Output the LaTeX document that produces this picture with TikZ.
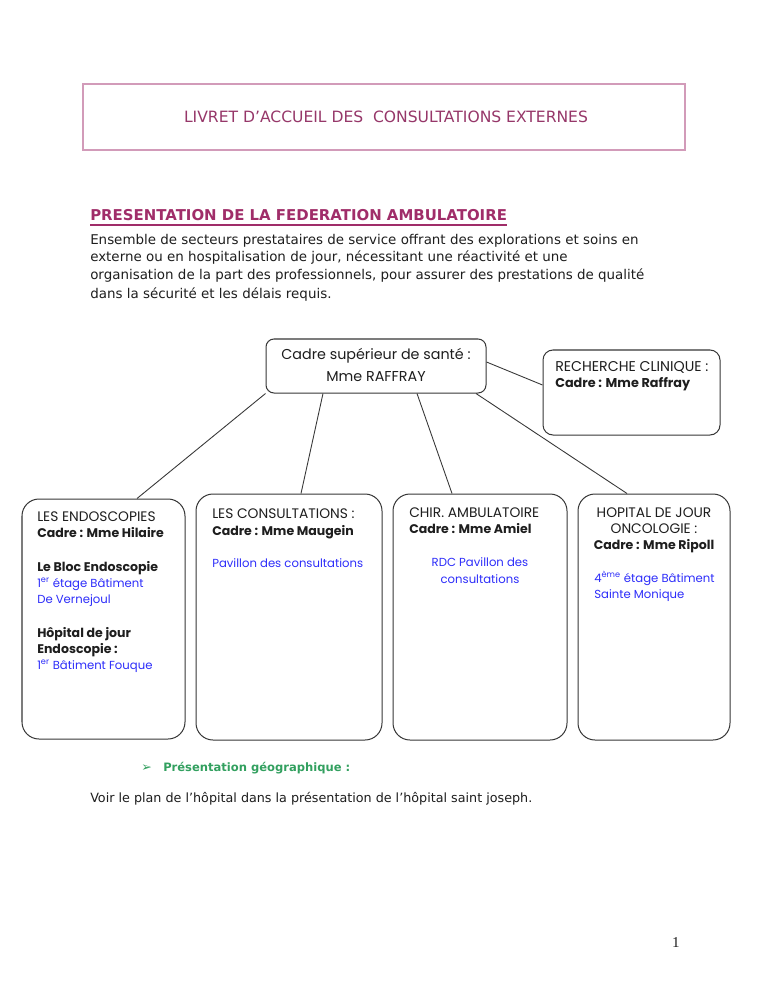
\documentclass[tikz,border=0pt]{standalone}
\usepackage{fontspec}
\setmainfont{DejaVu Sans}
\newfontfamily\comic{Poppins}
\newfontfamily\pnum{Liberation Serif}
\newcommand{\pxu}{0.796875pt}
\definecolor{titlecol}{RGB}{150,55,105}
\definecolor{titlebord}{RGB}{210,155,185}
\definecolor{headcol}{RGB}{160,45,105}
\definecolor{bluet}{RGB}{45,45,250}
\definecolor{greent}{RGB}{50,160,95}
\definecolor{txt}{RGB}{30,30,30}
\definecolor{boxline}{RGB}{55,55,55}
\tikzset{
  ln/.style={anchor=base west, inner sep=0pt, text=txt},
  lnc/.style={anchor=base, inner sep=0pt, text=txt},
  orgbox/.style={draw=boxline, line width=0.8pt, fill=white, inner sep=0pt},
  conn/.style={draw=boxline, line width=0.7pt},
  bx/.style={font=\comic\fontsize{11}{13}\selectfont},
  bxb/.style={font=\comic\bfseries\fontsize{10}{12}\selectfont},
  bxbl/.style={font=\comic\fontsize{9.3}{11}\selectfont, text=bluet},
}
\begin{document}
\begin{tikzpicture}[x=0.796875pt,y=-0.796875pt]
\useasboundingbox[fill=white] (0,0) rectangle (768,994);

% Title box
\node[draw=titlebord, line width=2.2pt, minimum width=602*\pxu, minimum height=66*\pxu, inner sep=0pt] (titlebox) at (384,117) {};
\node[lnc, text=titlecol, font=\fontsize{12.4}{14}\selectfont] (title) at (386,123) {LIVRET D’ACCUEIL DES\ \ CONSULTATIONS EXTERNES};

% Heading
\node[ln, text=headcol, font=\bfseries\fontsize{11.9}{14}\selectfont] (head) at (90,221) {PRESENTATION DE LA FEDERATION AMBULATOIRE};
\draw[headcol, line width=1.2pt] ([yshift=-3pt]head.base west) -- ([yshift=-3pt]head.base east);

% Paragraph
\begin{scope}[every node/.style={ln, font=\fontsize{10.7}{12}\selectfont}]
\node (p1) at (90,244) {Ensemble de secteurs prestataires de service offrant des explorations et soins en};
\node (p2) at (90,262) {externe ou en hospitalisation de jour, nécessitant une réactivité et une};
\node (p3) at (90,280) {organisation de la part des professionnels, pour assurer des prestations de qualité};
\node (p4) at (90,298) {dans la sécurité et les délais requis.};
\end{scope}

% Org boxes
\node[orgbox, minimum width=220*\pxu, minimum height=54*\pxu, rounded corners=8*\pxu] (top) at (376,366) {};
\node[orgbox, minimum width=177*\pxu, minimum height=85*\pxu, rounded corners=10*\pxu] (rech) at (631.5,392.5) {};
\node[orgbox, minimum width=163*\pxu, minimum height=240*\pxu, rounded corners=17*\pxu] (endo) at (103.5,619) {};
\node[orgbox, minimum width=186*\pxu, minimum height=246*\pxu, rounded corners=17*\pxu] (cons) at (289,617) {};
\node[orgbox, minimum width=174*\pxu, minimum height=246*\pxu, rounded corners=17*\pxu] (chir) at (480,617) {};
\node[orgbox, minimum width=152*\pxu, minimum height=246*\pxu, rounded corners=17*\pxu] (hdj) at (654,617) {};

% Connectors
\draw[conn] (top.south west) -- ([xshift=33.5*\pxu]endo.north);
\draw[conn] ([xshift=-53*\pxu]top.south) -- ([xshift=12*\pxu]cons.north);
\draw[conn] ([xshift=41*\pxu]top.south) -- ([xshift=-28*\pxu]chir.north);
\draw[conn] ([xshift=100*\pxu]top.south) -- ([xshift=-27*\pxu]hdj.north);
\draw[conn] ([yshift=4*\pxu]top.east) -- ([yshift=7.5*\pxu]rech.west);

% Top box text
\node[lnc, font=\comic\fontsize{11.4}{13}\selectfont] (t1) at (376,359) {Cadre supérieur de santé :};
\node[lnc, font=\comic\fontsize{11.4}{13}\selectfont] (t2) at (376,381) {Mme RAFFRAY};

% Recherche text
\node[ln, font=\comic\fontsize{11.3}{13}\selectfont] (r1) at (555,371) {RECHERCHE CLINIQUE :};
\node[ln, font=\comic\bfseries\fontsize{10.2}{12}\selectfont] (r2) at (555,387) {Cadre : Mme Raffray};

% Endoscopies text
\node[ln, bx] (e1) at (37,521) {LES ENDOSCOPIES};
\node[ln, bxb] (e2) at (37,537) {Cadre : Mme Hilaire};
\node[ln, bxb] (e3) at (37,571) {Le Bloc Endoscopie};
\node[ln, bxbl] (e4) at (37,587) {1\textsuperscript{er} étage Bâtiment};
\node[ln, bxbl] (e5) at (37,603) {De Vernejoul};
\node[ln, bxb] (e6) at (37,637) {Hôpital de jour};
\node[ln, bxb] (e7) at (37,653) {Endoscopie :};
\node[ln, bxbl] (e8) at (37,669) {1\textsuperscript{er} Bâtiment Fouque};

% Consultations text
\node[ln, bx] (c1) at (212,518) {LES CONSULTATIONS :};
\node[ln, bxb] (c2) at (212,535) {Cadre : Mme Maugein};
\node[ln, bxbl] (c3) at (212,567) {Pavillon des consultations};

% Chir text
\node[ln, bx] (h1) at (409,517) {CHIR. AMBULATOIRE};
\node[ln, bxb] (h2) at (409,533) {Cadre : Mme Amiel};
\node[lnc, bxbl] (h3) at (480,566) {RDC Pavillon des};
\node[lnc, bxbl] (h4) at (480,583) {consultations};

% HDJ text
\node[lnc, bx] (o1) at (654,517) {HOPITAL DE JOUR};
\node[lnc, bx] (o2) at (654,533) {ONCOLOGIE :};
\node[lnc, bxb] (o3) at (654,549) {Cadre : Mme Ripoll};
\node[ln, bxbl] (o4) at (594,582) {4\textsuperscript{ème} étage Bâtiment};
\node[ln, bxbl] (o5) at (594,598) {Sainte Monique};

% Presentation geographique
\node[ln, text=greent, font=\fontsize{10}{12}\selectfont] (arrow) at (141,771) {➢};
\node[ln, text=greent, font=\bfseries\fontsize{9.2}{12}\selectfont] (geo) at (163,771) {Présentation géographique :};
\node[ln, font=\fontsize{10.15}{12}\selectfont] (voir) at (90,802) {Voir le plan de l’hôpital dans la présentation de l’hôpital saint joseph.};

% Page number
\node[lnc, font=\pnum\fontsize{12}{14}\selectfont] (pagenum) at (676,947) {1};
\end{tikzpicture}
\end{document}
